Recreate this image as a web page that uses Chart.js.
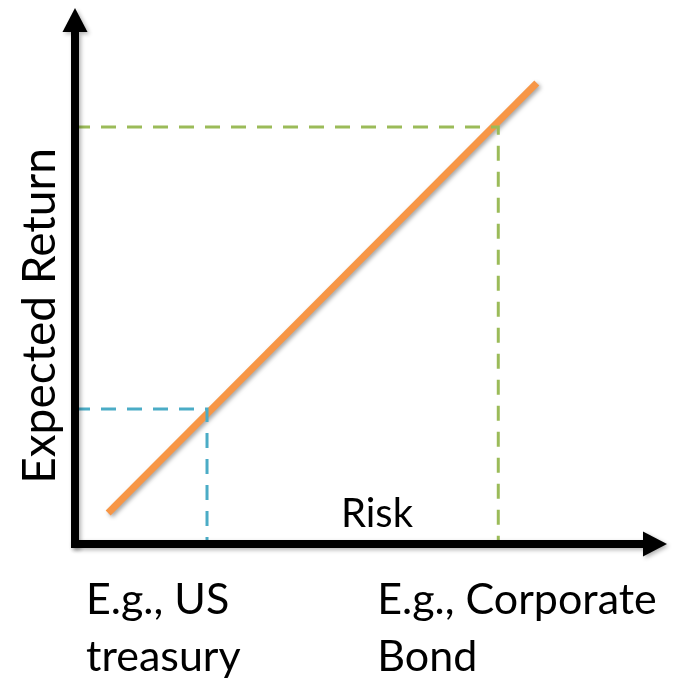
<!DOCTYPE html>
<html>
<head>
<meta charset="utf-8">
<script src="https://cdn.jsdelivr.net/npm/chart.js@4/dist/chart.umd.min.js"></script>
<style>
  html, body { margin: 0; padding: 0; background: #fff; }
  #wrap { width: 674px; height: 678px; }
</style>
</head>
<body>
<div id="wrap"><canvas id="c" width="674" height="678"></canvas></div>
<script>
// Risk / return trade-off: one upward line and two example assets
const xTitle = 'Risk';
const yTitle = 'Expected Return';

const assetNames  = [['E.g., US', 'treasury'], ['E.g., Corporate', 'Bond']];
const assetRisk   = [22.3, 71.5];
const assetReturn = [25.2, 77.8];
const assetColors = ['#4BACC6', '#9BBB59'];

const tradeoffRisk   = [5.6, 78.0];
const tradeoffReturn = [5.8, 86.0];

const FONT = 'Lato, "Liberation Sans", sans-serif';

// dashed guide from the y axis to the asset, then down to the x axis
const guideSets = assetRisk.map((r, i) => ({
  type: 'line',
  data: [{ x: 0, y: assetReturn[i] }, { x: r, y: assetReturn[i] }, { x: r, y: 0 }],
  borderColor: assetColors[i],
  borderWidth: 3,
  borderDash: [15, 11],
  pointRadius: 0,
  fill: false,
  tension: 0,
  clip: false
}));

const tradeoffSet = {
  type: 'line',
  data: tradeoffRisk.map((r, i) => ({ x: r, y: tradeoffReturn[i] })),
  borderColor: '#F79646',
  borderWidth: 7,
  borderCapStyle: 'butt',
  pointRadius: 0,
  fill: false,
  tension: 0,
  clip: false,
  shadowed: true
};

// soft drop shadow for the main line
const shadowPlugin = {
  id: 'lineShadow',
  beforeDatasetDraw(chart, args) {
    if (chart.data.datasets[args.index].shadowed) {
      const ctx = chart.ctx;
      ctx.save();
      ctx.shadowColor = 'rgba(0,0,0,0.35)';
      ctx.shadowBlur = 4;
      ctx.shadowOffsetX = 2;
      ctx.shadowOffsetY = 2;
    }
  },
  afterDatasetDraw(chart, args) {
    if (chart.data.datasets[args.index].shadowed) chart.ctx.restore();
  }
};

// arrowed axes and the text labels
const axesPlugin = {
  id: 'arrowAxes',
  afterDatasetsDraw(chart) {
    const ctx = chart.ctx;
    const xs = chart.scales.x, ys = chart.scales.y;
    const ox = xs.getPixelForValue(0), oy = ys.getPixelForValue(0);
    const xEnd = xs.getPixelForValue(100), yEnd = ys.getPixelForValue(100);
    const w = 8, head = 24, half = 12.5;

    ctx.save();
    ctx.shadowColor = 'rgba(0,0,0,0.3)';
    ctx.shadowBlur = 4;
    ctx.shadowOffsetX = 2;
    ctx.shadowOffsetY = 2;
    ctx.fillStyle = '#000';
    // y axis shaft + head
    ctx.fillRect(ox - w / 2, yEnd + head, w, oy + w / 2 - (yEnd + head));
    ctx.beginPath();
    ctx.moveTo(ox - half, yEnd + head);
    ctx.lineTo(ox + half, yEnd + head);
    ctx.lineTo(ox, yEnd);
    ctx.closePath();
    ctx.fill();
    // x axis shaft + head
    ctx.fillRect(ox - w / 2, oy - w / 2, xEnd - head - (ox - w / 2), w);
    ctx.beginPath();
    ctx.moveTo(xEnd - head, oy - half);
    ctx.lineTo(xEnd - head, oy + half);
    ctx.lineTo(xEnd, oy);
    ctx.closePath();
    ctx.fill();
    ctx.restore();

    ctx.save();
    ctx.fillStyle = '#000';
    ctx.textBaseline = 'alphabetic';
    // x title sits just above the x axis
    ctx.font = '40px ' + FONT;
    ctx.textAlign = 'center';
    ctx.fillText(xTitle, 377, oy - 17);
    // y title, rotated
    ctx.save();
    ctx.translate(ox - 20, 316);
    ctx.rotate(-Math.PI / 2);
    ctx.font = '46px ' + FONT;
    ctx.textAlign = 'center';
    ctx.fillText(yTitle, 0, 0);
    ctx.restore();
    // asset names under the x axis
    ctx.font = '43px ' + FONT;
    ctx.textAlign = 'left';
    assetNames.forEach((lines, i) => {
      const left = xs.getPixelForValue(assetRisk[i]) - 121;
      lines.forEach((t, j) => ctx.fillText(t, left, oy + 70 + j * 57));
    });
    ctx.restore();
  }
};

new Chart(document.getElementById('c'), {
  type: 'line',
  data: { datasets: [...guideSets, tradeoffSet] },
  options: {
    responsive: false,
    devicePixelRatio: 1,
    animation: false,
    layout: { padding: { left: 75, right: 7, top: 8, bottom: 134 } },
    scales: {
      x: { type: 'linear', min: 0, max: 100, display: false },
      y: { type: 'linear', min: 0, max: 100, display: false }
    },
    plugins: { legend: { display: false }, tooltip: { enabled: false } }
  },
  plugins: [shadowPlugin, axesPlugin]
});
</script>
</body>
</html>
